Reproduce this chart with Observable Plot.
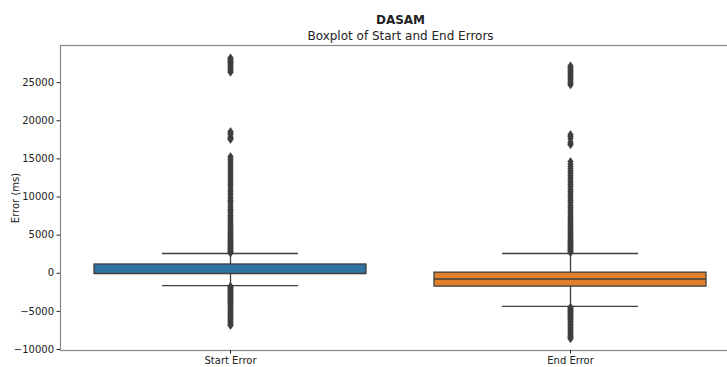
<!DOCTYPE html>
<html>
<head>
<meta charset="utf-8">
<script src="https://cdn.jsdelivr.net/npm/d3@7"></script>
<script src="https://cdn.jsdelivr.net/npm/@observablehq/plot@0.6"></script>
<style>
  body { margin: 0; background: #fff; }
  #wrap { width: 727px; height: 367px; overflow: hidden; position: relative; }
  #wrap svg { max-width: none !important; width: 740px; height: 367px; }
</style>
</head>
<body>
<div id="wrap"></div>
<script>
const categories = ["Start Error", "End Error"];
const boxColors = ["#3274a1", "#e1812c"];
const q1 = [-80, -1750];
const medians = [-50, -750];
const q3 = [1150, 80];
const whiskerLow = [-1620, -4340];
const whiskerHigh = [2590, 2590];
const yTicks = [-10000, -5000, 0, 5000, 10000, 15000, 20000, 25000];

const startOutliers = [
  2650, 2780, 2900, 3050, 3200, 3330, 3500, 3650, 3820, 4000, 4150, 4350, 4520, 4700, 4900,
  5100, 5300, 5480, 5700, 5900, 6150, 6380, 6600, 6850, 7100, 7350, 7600, 7900, 8150, 8400,
  8700, 9000, 9300, 9550, 9850, 10150, 10450, 10750, 11050, 11400, 11700, 12000, 12300, 12600,
  12900, 13200, 13500, 13800, 14100, 14400, 14700, 15000, 15300,
  17550, 17700, 17850, 18200, 18400, 18600,
  26350, 26500, 26700, 26900, 27100, 27300, 27500, 27650, 27800, 27950, 28100, 28250,
  -1700, -1850, -2000, -2150, -2300, -2450, -2600, -2750, -2900, -3050, -3200, -3350, -3500,
  -3650, -3800, -3950, -4100, -4300, -4500, -4700, -4900, -5100, -5300, -5500, -5700, -5900,
  -6100, -6300, -6500, -6700, -6850
];
const endOutliers = [
  2700, 2850, 3000, 3150, 3300, 3450, 3600, 3780, 3950, 4130, 4300, 4500, 4700, 4900, 5100,
  5300, 5520, 5750, 5980, 6200, 6450, 6700, 6950, 7200, 7480, 7750, 8000, 8300, 8600, 8900,
  9200, 9500, 9800, 10100, 10400, 10700, 11000, 11300, 11600, 11900, 12200, 12500, 12800,
  13100, 13400, 13700, 14000, 14300, 14650,
  16850, 17000, 17200, 17650, 17950, 18200,
  24700, 24900, 25100, 25350, 25600, 25800, 26000, 26200, 26400, 26600, 26800, 27000, 27200,
  -4450, -4600, -4750, -4900, -5050, -5200, -5350, -5500, -5650, -5800, -5950, -6100, -6300,
  -6500, -6700, -6900, -7100, -7300, -7500, -7700, -7900, -8100, -8300, -8450, -8600
];

const boxes = categories.map((c, i) => ({
  cat: c, color: boxColors[i], q1: q1[i], med: medians[i], q3: q3[i],
  lo: whiskerLow[i], hi: whiskerHigh[i]
}));
const outliers = [
  ...startOutliers.map(v => ({cat: categories[0], v})),
  ...endOutliers.map(v => ({cat: categories[1], v}))
];

const thinDiamond = {
  draw(context, size) {
    const r = Math.sqrt(size / Math.PI);
    context.moveTo(0, -r);
    context.lineTo(0.7 * r, 0);
    context.lineTo(0, r);
    context.lineTo(-0.7 * r, 0);
    context.closePath();
  }
};

const gray = "#3f3f3f";
const fmt = d => d < 0 ? "\u2212" + Math.abs(d) : String(d);

const chart = Plot.plot({
  width: 740,
  height: 367,
  marginLeft: 60,
  marginRight: 0,
  marginTop: 45,
  marginBottom: 17,
  style: {fontFamily: "DejaVu Sans", fontSize: "10px", color: "#222", background: "#fff"},
  x: {type: "band", domain: categories, padding: 0},
  y: {domain: [-10130, 29870]},
  color: {type: "identity"},
  marks: [
    Plot.ruleX(boxes, {x: "cat", y1: "q3", y2: "hi", stroke: gray, strokeWidth: 1.3}),
    Plot.ruleX(boxes, {x: "cat", y1: "q1", y2: "lo", stroke: gray, strokeWidth: 1.3}),
    Plot.tickY(boxes, {x: "cat", y: "hi", stroke: gray, strokeWidth: 1.3, insetLeft: 102, insetRight: 102}),
    Plot.tickY(boxes, {x: "cat", y: "lo", stroke: gray, strokeWidth: 1.3, insetLeft: 102, insetRight: 102}),
    Plot.barY(boxes, {x: "cat", y1: "q1", y2: "q3", fill: "color", stroke: gray, strokeWidth: 1.3, insetLeft: 34, insetRight: 34}),
    Plot.tickY(boxes, {x: "cat", y: "med", stroke: gray, strokeWidth: 1.3, insetLeft: 34, insetRight: 34}),
    Plot.dot(outliers, {x: "cat", y: "v", r: 4, symbol: thinDiamond, fill: gray, stroke: gray, strokeWidth: 0.5}),
    Plot.frame({stroke: "#888", strokeWidth: 1.2}),
    Plot.axisY({ticks: yTicks, tickFormat: fmt, tickSize: 3.5, tickPadding: 3, fontSize: 10,
      label: "Error (ms)", labelAnchor: "center", labelOffset: 49, labelArrow: "none"}),
    Plot.axisX({tickSize: 3.5, tickPadding: 3, fontSize: 10, label: null}),
    Plot.text(["DASAM"], {frameAnchor: "top", dy: -30, fontWeight: "bold", fontSize: 12, fill: "#222"}),
    Plot.text(["Boxplot of Start and End Errors"], {frameAnchor: "top", dy: -14, fontSize: 12, fill: "#222"})
  ]
});
document.getElementById("wrap").appendChild(chart);
</script>
</body>
</html>
